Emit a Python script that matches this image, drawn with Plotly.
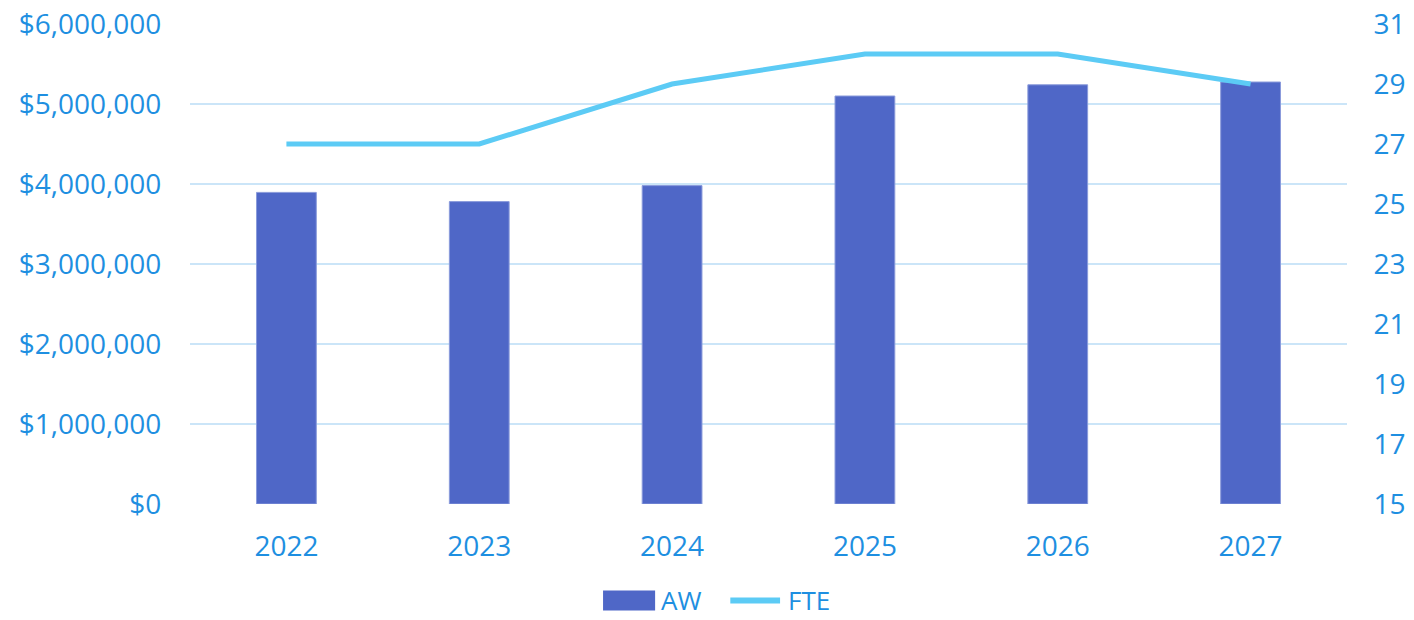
import plotly.graph_objects as go

years = ["2022", "2023", "2024", "2025", "2026", "2027"]
aw = [3895000, 3780000, 3980000, 5100000, 5240000, 5275000]
fte = [27, 27, 29, 30, 30, 29]
series_names = ["AW", "FTE"]

text_color = "#1E8FE1"
bar_color = "#4F67C7"
line_color = "#5CCBF5"
font_family = "Open Sans"

fig = go.Figure()
fig.add_trace(go.Bar(
    x=years, y=aw, name=series_names[0],
    marker=dict(color=bar_color, line=dict(color="#8A9BDB", width=1)),
    yaxis="y", showlegend=False,
))
fig.add_trace(go.Scatter(
    x=years, y=fte, name=series_names[1], mode="lines",
    line=dict(color=line_color, width=5),
    yaxis="y2", showlegend=False,
))

# manual legend (paper coordinates)
leg_y = -0.201
fig.add_shape(type="rect", xref="paper", yref="paper",
              x0=0.357, x1=0.402, y0=leg_y - 0.021, y1=leg_y + 0.021,
              fillcolor=bar_color, line=dict(width=0))
fig.add_annotation(xref="paper", yref="paper", x=0.4054, y=leg_y,
                   xanchor="left", yanchor="middle", text=series_names[0],
                   showarrow=False, font=dict(size=26, color=text_color))
fig.add_shape(type="line", xref="paper", yref="paper",
              x0=0.467, x1=0.510, y0=leg_y, y1=leg_y,
              line=dict(color=line_color, width=6))
fig.add_annotation(xref="paper", yref="paper", x=0.5151, y=leg_y,
                   xanchor="left", yanchor="middle", text=series_names[1],
                   showarrow=False, font=dict(size=26, color=text_color))

fig.update_layout(
    width=1414, height=620,
    margin=dict(l=190, r=67, t=24, b=116, autoexpand=False),
    paper_bgcolor="white", plot_bgcolor="white",
    font=dict(family=font_family, size=28, color=text_color),
    bargap=0.69,
    showlegend=False,
    xaxis=dict(showgrid=False, showline=False, zeroline=False, automargin=False,
               ticks="outside", ticklen=17, tickcolor="rgba(0,0,0,0)",
               tickfont=dict(size=28, color=text_color)),
    yaxis=dict(range=[0, 6000000], dtick=1000000, tickprefix="$", tickformat=",",
               showgrid=True, gridcolor="#CBE5F8", gridwidth=2,
               zeroline=False, showline=False, automargin=False,
               ticklabeloverflow="allow",
               ticks="outside", ticklen=22, tickcolor="rgba(0,0,0,0)",
               tickfont=dict(size=28, color=text_color)),
    yaxis2=dict(range=[15, 31], tick0=15, dtick=2, overlaying="y", side="right",
                showgrid=False, zeroline=False, showline=False, automargin=False,
                ticklabeloverflow="allow",
                ticks="outside", ticklen=20, tickcolor="rgba(0,0,0,0)",
                tickfont=dict(size=28, color=text_color)),
)

fig.write_html("out.html", config={"displayModeBar": False},
               post_script="document.body.style.margin='0';document.body.style.overflow='hidden';")
